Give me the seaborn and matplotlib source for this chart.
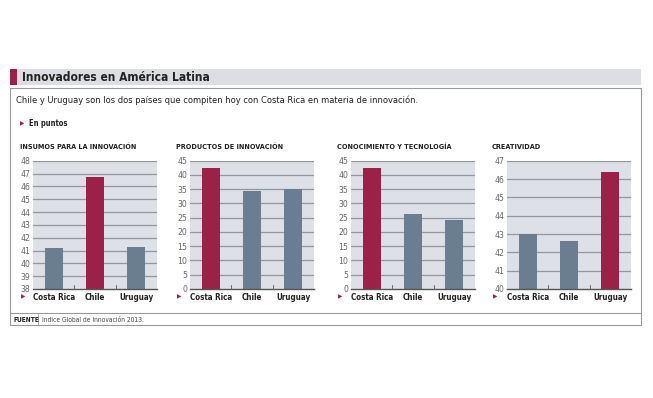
import pandas as pd
import seaborn as sns
import matplotlib.pyplot as plt
from matplotlib.patches import Rectangle

# data
paises = ['Costa Rica', 'Chile', 'Uruguay']
titulos = ['INSUMOS PARA LA INNOVACIÓN', 'PRODUCTOS DE INNOVACIÓN',
           'CONOCIMIENTO Y TECNOLOGÍA', 'CREATIVIDAD']
insumos = [41.2, 46.7, 41.3]
productos = [42.3, 34.3, 35.0]
conocimiento = [42.3, 26.4, 24.1]
creatividad = [43.0, 42.6, 46.4]
destacado = ['Chile', 'Costa Rica', 'Costa Rica', 'Uruguay']
y_limites = [(38, 48), (0, 45), (0, 45), (40, 47)]
y_pasos = [1, 5, 5, 1]

ROJO = '#9b2148'
GRIS = '#6b7d90'
FONDO = '#dde0e6'
W, H = 653, 398

sns.set_theme(style='white')
plt.rcParams['font.family'] = ['DejaVu Sans']
plt.rcParams['font.stretch'] = 'condensed'

fig = plt.figure(figsize=(W / 100, H / 100), dpi=100)


def px(x0, y0, w, h):
    '''pixel box (top-left origin) -> figure fraction rect'''
    return [x0 / W, 1 - (y0 + h) / H, w / W, h / H]


def frect(x0, y0, w, h, **kw):
    r = Rectangle((x0 / W, 1 - (y0 + h) / H), w / W, h / H,
                  transform=fig.transFigure, **kw)
    fig.patches.append(r)


def ftext(x, y, s, **kw):
    fig.text(x / W, 1 - y / H, s, **kw)


def tri(x, y):
    fig.text(x / W, 1 - y / H, '\u25B6', color=ROJO, fontsize=4.5,
             va='center', ha='left')


# header bar
frect(10, 69, 631, 16, facecolor='#dcdee3', edgecolor='none')
frect(10, 69, 7, 16, facecolor=ROJO, edgecolor='none')
ftext(22, 77.5, 'Innovadores en América Latina', fontsize=8.6,
      fontweight='bold', va='center', color='#222222')

# outer box
frect(10, 88, 631, 237, facecolor='none', edgecolor='#9a9a9a', linewidth=0.8)
frect(10, 313, 631, 0.01, facecolor='none', edgecolor='#9a9a9a', linewidth=0.8)
fig.add_artist(plt.Line2D([38 / W, 38 / W], [1 - 314 / H, 1 - 325 / H],
                          transform=fig.transFigure, color='#9a9a9a', lw=0.6))

ftext(16, 100, 'Chile y Uruguay son los dos países que compiten hoy con Costa Rica en materia de innovación.',
      fontsize=6.7, va='center', color='#222222')
tri(20, 124)
ftext(29, 124, 'En puntos', fontsize=5.5, fontweight='bold', va='center', color='#222222')

ftext(13, 320, 'FUENTE', fontsize=4.8, fontweight='bold', va='center', color='#222222')
ftext(42, 320, 'Indice Global de Innovación 2013.', fontsize=4.8, va='center', color='#444444')

series = [insumos, productos, conocimiento, creatividad]
ejes_x = [33, 190, 351, 507]
titulo_x = [20, 176, 337, 492]

for i, vals in enumerate(series):
    df = pd.DataFrame({'pais': paises, 'valor': vals})
    pal = {p: (ROJO if p == destacado[i] else GRIS) for p in paises}
    ax = fig.add_axes(px(ejes_x[i], 160.7, 124, 128.3))
    ax.set_facecolor(FONDO)
    lo, hi = y_limites[i]
    ticks = list(range(lo, hi + 1, y_pasos[i]))
    for t in ticks[1:]:
        ax.axhline(t, color='#92979e', lw=0.9, zorder=0)
    sns.barplot(data=df, x='pais', y='valor', hue='pais', palette=pal,
                legend=False, width=0.44, saturation=1, linewidth=0,
                edgecolor='none', ax=ax, zorder=2)
    ax.set_ylim(lo, hi)
    ax.set_xlim(-0.5, 2.5)
    ax.set_yticks(ticks)
    ax.set_yticklabels([str(t) for t in ticks], fontsize=6.2, color='#666666')
    ax.set_xticks([0, 1, 2])
    ax.set_xticklabels(paises, fontsize=5.8, fontweight='bold', color='#222222')
    ax.tick_params(axis='both', length=0, pad=2)
    ax.tick_params(axis='x', pad=3)
    for x in (0.5, 1.5):
        ax.plot([x, x], [lo, lo + (hi - lo) * 0.03], color='#666666', lw=0.7,
                zorder=3, clip_on=False)
    ax.set_xlabel('')
    ax.set_ylabel('')
    for s in ('top', 'right', 'left'):
        ax.spines[s].set_visible(False)
    ax.spines['bottom'].set_color('#555555')
    ax.spines['bottom'].set_linewidth(1.0)
    ftext(titulo_x[i], 147, titulos[i], fontsize=5.2, fontweight='bold',
          va='center', color='#222222')
    tri(titulo_x[i] + 1, 297)

fig.savefig('out.png', dpi=100, facecolor='white')
